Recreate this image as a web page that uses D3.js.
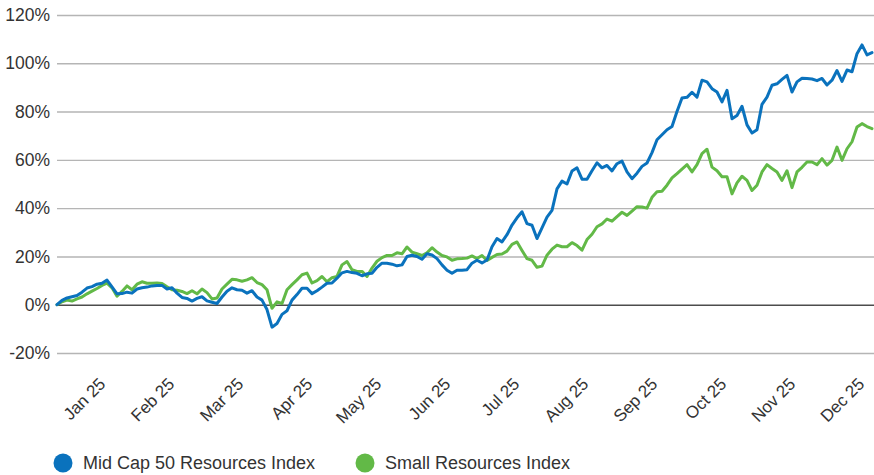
<!DOCTYPE html>
<html>
<head>
<meta charset="utf-8">
<script src="https://cdn.jsdelivr.net/npm/d3@7"></script>
<style>
  html, body { margin: 0; padding: 0; background: #fff; }
  svg { display: block; font-family: "Liberation Sans", Arial, Helvetica, sans-serif; }
</style>
</head>
<body>
<svg id="chart" width="874" height="475"></svg>
<script>
// ---- DATA ----
const monthLabels = ["Jan 25","Feb 25","Mar 25","Apr 25","May 25","Jun 25","Jul 25","Aug 25","Sep 25","Oct 25","Nov 25","Dec 25"];
const yTicks = [-20, 0, 20, 40, 60, 80, 100, 120];
const seriesNames = ["Mid Cap 50 Resources Index", "Small Resources Index"];

// cumulative return (%) sampled at evenly spaced points through 2025
const midCap = [
  0, 1.8, 2.8, 3.3, 3.8, 5.2, 6.9, 7.5, 8.5, 8.9,
  10.2, 7.4, 4.5, 4.6, 5.2, 4.8, 6.5, 7.0, 7.3, 7.8,
  8.0, 8.0, 6.5, 7.0, 4.8, 3.0, 2.6, 1.5, 2.6, 3.3,
  1.6, 1.0, 0.5, 3.2, 5.6, 7.0, 6.2, 6.0, 4.8, 5.8,
  3.2, 1.9, -2.0, -9.3, -7.8, -4.0, -2.5, 1.9, 4.2, 6.8,
  6.8, 4.6, 5.8, 7.3, 8.9, 9.0, 11.0, 13.2, 13.8, 13.3,
  13.0, 12.0, 12.8, 13.0, 15.5, 17.2, 17.2, 16.8, 16.1, 16.5,
  20.0, 20.5, 20.0, 18.8, 21.1, 20.6, 19.1, 16.5, 14.3, 13.0,
  14.3, 14.3, 14.5, 17.2, 18.4, 17.3, 18.5, 24.0, 27.4, 26.0,
  29.0, 33.0, 36.0, 38.5, 33.6, 32.9, 27.4, 31.8, 36.3, 39.1,
  48.0, 51.2, 50.0, 55.4, 56.7, 52.0, 52.0, 55.5, 58.8, 56.7,
  57.7, 55.4, 58.4, 59.5, 55.0, 52.2, 54.5, 57.3, 58.7, 63.0,
  68.3, 70.4, 72.5, 73.8, 80.0, 85.6, 85.9, 88.0, 86.0, 93.0,
  92.3, 89.5, 88.1, 84.0, 88.8, 77.0, 78.4, 82.2, 74.5, 71.1,
  72.5, 83.0, 86.0, 90.9, 91.5, 93.3, 95.0, 88.1, 92.3, 93.8,
  93.7, 93.5, 92.8, 93.7, 91.0, 93.0, 97.0, 92.5, 97.2, 96.5,
  104.0, 107.6, 103.5, 104.4
];
const small = [
  0, 1.2, 1.9, 1.5, 2.4, 3.2, 4.5, 5.6, 6.7, 8.0,
  8.9, 7.0, 3.5, 5.5, 7.8, 6.2, 8.5, 9.5, 8.9, 8.9,
  9.0, 8.8, 7.4, 6.2, 6.0, 5.5, 4.6, 5.8, 4.5, 6.5,
  5.0, 2.4, 2.8, 6.5, 8.5, 10.5, 10.3, 9.7, 10.3, 11.2,
  9.2, 8.3, 6.2, -1.5, 1.2, 0.5, 6.2, 8.3, 10.3, 12.4,
  13.1, 9.0, 10.0, 11.7, 9.5, 11.2, 11.7, 16.5, 17.9, 14.5,
  13.8, 13.8, 11.7, 15.2, 18.0, 19.5, 20.4, 20.4, 21.5, 21.1,
  23.9, 21.8, 21.1, 20.4, 21.5, 23.6, 21.8, 20.4, 19.8, 18.4,
  19.0, 19.1, 19.3, 20.2, 19.1, 20.4, 18.3, 19.6, 20.8, 21.0,
  22.2, 25.0, 26.0, 22.5, 19.1, 18.4, 15.5, 16.0, 20.5, 23.0,
  24.7, 24.0, 24.0, 25.7, 24.5, 22.6, 27.0, 29.2, 32.3, 33.5,
  35.5, 34.6, 36.5, 38.3, 37.0, 38.8, 40.6, 40.5, 40.0, 44.5,
  46.8, 47.0, 49.5, 52.5, 54.3, 56.2, 58.0, 55.0, 58.0, 62.6,
  64.4, 57.0, 55.5, 53.0, 53.0, 45.9, 50.5, 53.2, 51.5, 47.3,
  49.5, 55.0, 58.0, 56.4, 55.0, 51.5, 55.5, 48.5, 55.0, 56.9,
  59.1, 59.1, 58.0, 60.5, 57.8, 59.8, 65.3, 59.8, 64.6, 67.5,
  73.6, 75.0, 73.8, 72.9
];
const colors = ["#0a72bd", "#62b947"];

// ---- CHART ----
const svg = d3.select("#chart");
const left = 57, right = 874, lineEnd = 872;
const y = d3.scaleLinear().domain([-20, 120]).range([353, 15]);
const x = d3.scaleLinear().domain([0, midCap.length - 1]).range([left, lineEnd]);
const xl = d3.scalePoint().domain(monthLabels).range([106, 865]);

// gridlines + y labels
const yAxis = d3.axisLeft(y).tickValues(yTicks).tickSize(0).tickPadding(0)
  .tickFormat(d => d + "%");
const gy = svg.append("g").attr("transform", `translate(${left},0)`).call(yAxis);
gy.select(".domain").remove();
gy.selectAll(".tick line")
  .attr("x1", 0).attr("x2", right - left)
  .attr("stroke", d => d === 0 ? "#4d4d4d" : "#b5b5b5")
  .attr("stroke-width", d => d === 0 ? 1.6 : 1.4);
gy.selectAll(".tick text")
  .attr("x", -7)
  .attr("fill", "#333")
  .style("font-size", "17.5px")
  .style("font-family", "'Liberation Sans', Arial, sans-serif");

// x labels
const xAxis = d3.axisBottom(xl).tickSize(0).tickPadding(0);
const gx = svg.append("g").attr("transform", "translate(0,385)").call(xAxis);
gx.select(".domain").remove();
gx.selectAll(".tick text")
  .attr("y", 0).attr("dy", "0")
  .attr("transform", "rotate(-45)")
  .style("text-anchor", "end")
  .attr("fill", "#333")
  .style("font-size", "17px")
  .style("font-family", "'Liberation Sans', Arial, sans-serif");

// lines
const line = d3.line().x((d, i) => x(i)).y(d => y(d));
[small, midCap].forEach((s, k) => {
  svg.append("path")
    .datum(s)
    .attr("fill", "none")
    .attr("stroke", k === 0 ? colors[1] : colors[0])
    .attr("stroke-width", 3)
    .attr("stroke-linejoin", "round")
    .attr("stroke-linecap", "round")
    .attr("d", line);
});

// legend
const legendX = [63, 365];
const lg = svg.append("g");
seriesNames.forEach((n, i) => {
  lg.append("circle").attr("cx", legendX[i]).attr("cy", 463).attr("r", 9.5).attr("fill", colors[i]);
  lg.append("text").attr("x", legendX[i] + 20).attr("y", 463).attr("dy", "0.35em")
    .attr("fill", "#333").style("font-size", "18px").text(n);
});
</script>
</body>
</html>
